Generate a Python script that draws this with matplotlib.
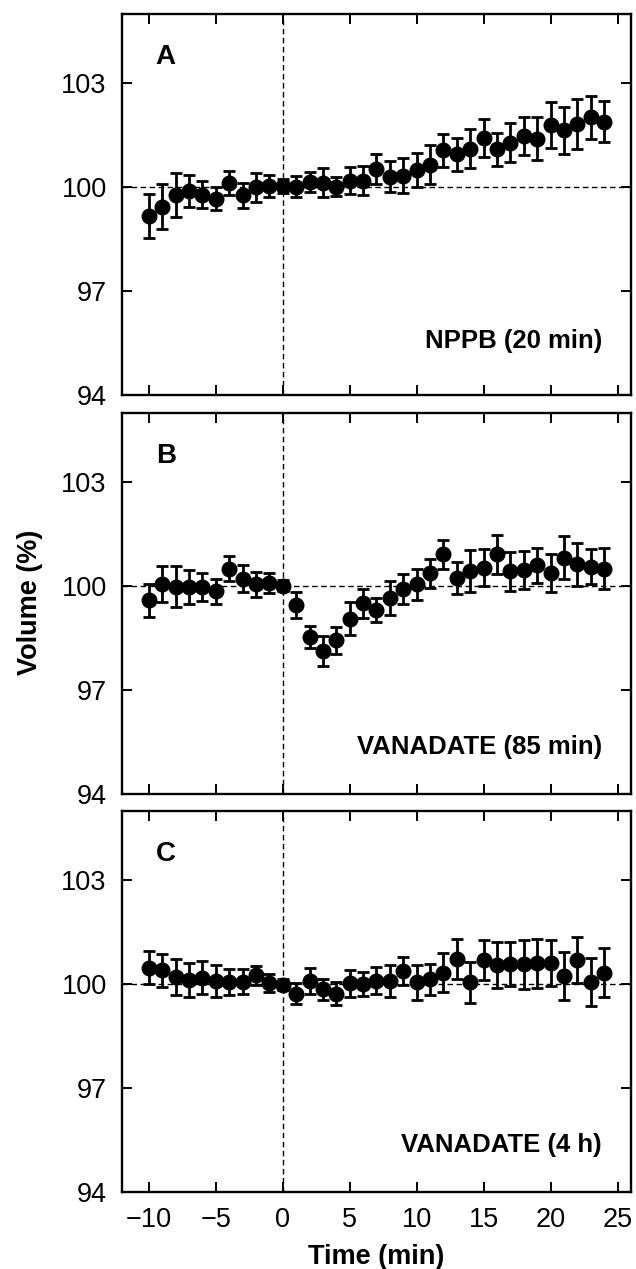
import numpy as np
import matplotlib.pyplot as plt

# time points (min)
time = list(range(-10, 25))

# panel A: NPPB (20 min)
vol_a = [99.16, 99.42, 99.77, 99.88, 99.77, 99.66, 100.11, 99.75, 99.98, 100.01,
         100.02, 100.00, 100.14, 100.11, 100.00, 100.17, 100.17, 100.51, 100.29, 100.32,
         100.48, 100.64, 101.05, 100.94, 101.10, 101.42, 101.08, 101.27, 101.46, 101.39,
         101.78, 101.63, 101.81, 102.00, 101.88]
err_a = [0.64, 0.65, 0.63, 0.47, 0.39, 0.34, 0.34, 0.37, 0.43, 0.32,
         0.20, 0.31, 0.28, 0.42, 0.28, 0.39, 0.42, 0.44, 0.45, 0.50,
         0.49, 0.57, 0.48, 0.48, 0.57, 0.55, 0.48, 0.57, 0.54, 0.63,
         0.67, 0.68, 0.73, 0.61, 0.60]

# panel B: VANADATE (85 min)
vol_b = [99.59, 100.05, 99.98, 99.98, 99.98, 99.86, 100.51, 100.22, 100.05, 100.09,
         100.02, 99.45, 98.54, 98.13, 98.44, 99.06, 99.51, 99.32, 99.67, 99.93,
         100.05, 100.38, 100.92, 100.24, 100.44, 100.54, 100.92, 100.43, 100.46, 100.60,
         100.39, 100.82, 100.63, 100.56, 100.51]
err_b = [0.47, 0.52, 0.59, 0.50, 0.41, 0.36, 0.37, 0.39, 0.36, 0.30,
         0.15, 0.38, 0.32, 0.44, 0.39, 0.48, 0.42, 0.34, 0.49, 0.43,
         0.44, 0.42, 0.42, 0.46, 0.61, 0.54, 0.57, 0.57, 0.55, 0.51,
         0.55, 0.62, 0.62, 0.51, 0.60]

# panel C: VANADATE (4 h)
vol_c = [100.48, 100.40, 100.21, 100.12, 100.19, 100.09, 100.07, 100.07, 100.26, 100.03,
         99.99, 99.73, 100.09, 99.85, 99.73, 100.02, 100.00, 100.10, 100.10, 100.38,
         100.05, 100.14, 100.33, 100.72, 100.05, 100.69, 100.55, 100.58, 100.58, 100.60,
         100.61, 100.24, 100.69, 100.07, 100.33]
err_c = [0.47, 0.47, 0.51, 0.48, 0.47, 0.45, 0.37, 0.36, 0.27, 0.27,
         0.15, 0.30, 0.37, 0.30, 0.34, 0.39, 0.35, 0.39, 0.46, 0.40,
         0.50, 0.45, 0.56, 0.58, 0.58, 0.58, 0.67, 0.64, 0.71, 0.70,
         0.66, 0.70, 0.67, 0.70, 0.71]

letters = ['A', 'B', 'C']
labels = ['NPPB (20 min)', 'VANADATE (85 min)', 'VANADATE (4 h)']
yticks = [94, 97, 100, 103]
xticks = [-10, -5, 0, 5, 10, 15, 20, 25]

plt.rcParams['font.family'] = ['Liberation Sans', 'DejaVu Sans']

fig = plt.figure(figsize=(6.36, 12.69), dpi=100)
bottoms = [0.6891, 0.3743, 0.0607]
height = 0.3002
label_y = [0.14, 0.124, 0.124]

panels = [(vol_a, err_a), (vol_b, err_b), (vol_c, err_c)]
axes = []
for i, (vol, err) in enumerate(panels):
    ax = fig.add_axes([0.1918, bottoms[i], 0.8003, height])
    axes.append(ax)
    ax.axhline(100, color='black', lw=1.0, ls=(0, (4, 2.5)), zorder=1)
    ax.axvline(0, color='black', lw=1.0, ls=(0, (4, 2.5)), zorder=1)
    ax.errorbar(time, vol, yerr=err, fmt='o', color='black', ms=10.5,
                elinewidth=2.0, capsize=4, capthick=2.0, zorder=3)
    ax.set_xlim(-12, 26)
    ax.set_ylim(94, 105)
    ax.set_yticks(yticks)
    ax.set_xticks(xticks)
    ax.tick_params(direction='in', top=True, right=True, length=7, width=1.4,
                   labelsize=19.5, pad=11)
    for s in ax.spines.values():
        s.set_linewidth(1.7)
    if i < 2:
        ax.set_xticklabels([])
    ax.text(0.086, 0.886, letters[i], transform=ax.transAxes, fontsize=20,
            fontweight='bold', ha='center', va='center')
    ax.text(0.943, label_y[i], labels[i], transform=ax.transAxes, fontsize=18.5,
            fontweight='bold', ha='right', va='center')

axes[2].set_xlabel('Time (min)', fontsize=19.5, fontweight='bold', labelpad=8)
fig.text(0.047, 0.525, 'Volume (%)', rotation=90, fontsize=19.5,
         fontweight='bold', ha='center', va='center')

fig.savefig('out.png', dpi=100)
